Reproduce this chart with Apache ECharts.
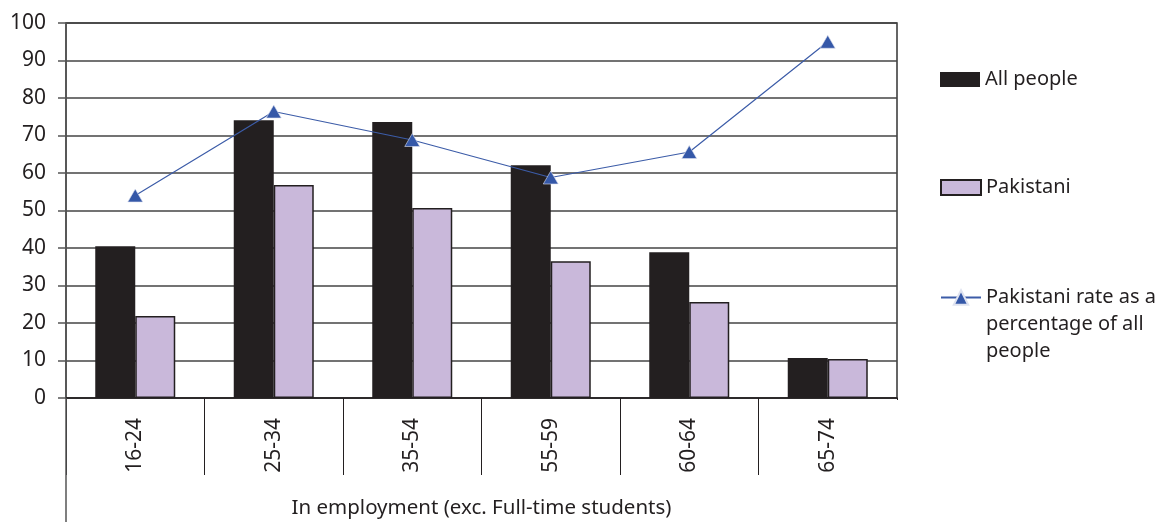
<!DOCTYPE html>
<html>
<head>
<meta charset="utf-8">
<script src="https://cdn.jsdelivr.net/npm/echarts@6/dist/echarts.min.js"></script>
<style>html,body{margin:0;padding:0;background:#fff}#c{width:1161px;height:522px}</style>
</head>
<body>
<div id="c"></div>
<script>
const categories = ['16-24', '25-34', '35-54', '55-59', '60-64', '65-74'];
const allPeople = [40.5, 74.1, 73.6, 62.1, 38.9, 10.7];
const pakistani = [21.9, 56.8, 50.7, 36.5, 25.6, 10.4];
const pakRate = [54.0, 76.4, 68.8, 58.8, 65.6, 95.0];
const yTicks = [0, 10, 20, 30, 40, 50, 60, 70, 80, 90, 100];
const xAxisName = 'In employment (exc. Full-time students)';
const seriesNames = ['All people', 'Pakistani', 'Pakistani rate as a percentage of all people'];
const legendLabel3 = ['Pakistani rate as a', 'percentage of all', 'people'];

const FONT = 'Noto Sans';
const TXT = '#231f20';
const chart = echarts.init(document.getElementById('c'), null, {renderer: 'canvas'});

function legendFor(name, top, formatter) {
  return {
    data: [{name: name, icon: 'rect'}], orient: 'vertical', left: 940, top: top,
    itemWidth: 40, itemHeight: 15, padding: 0,
    textStyle: {fontFamily: FONT, fontSize: 20, color: TXT, lineHeight: 27},
    formatter: formatter || '{name}'
  };
}

chart.setOption({
  animation: false,
  textStyle: {fontFamily: FONT},
  grid: {left: 66, right: 264, top: 23, bottom: 124, show: true, borderColor: '#333', borderWidth: 1.5,
         outerBoundsMode: 'none', containLabel: false},
  legend: [
    legendFor(seriesNames[0], 66),
    legendFor(seriesNames[1], 174),
    {
      data: [seriesNames[2]], orient: 'vertical', left: 940, top: 284 - 54,
      itemWidth: 40, itemHeight: 18, padding: 0,
      textStyle: {fontFamily: FONT, fontSize: 20, color: TXT, lineHeight: 27},
      formatter: function () { return '\n\n' + legendLabel3.join('\n'); }
    }
  ],
  xAxis: {
    type: 'category', data: categories,
    name: xAxisName, nameLocation: 'middle', nameGap: 100, nameMoveOverlap: false,
    nameTextStyle: {fontFamily: FONT, fontSize: 20.5, color: TXT},
    axisLine: {lineStyle: {color: '#231f20', width: 1.5}},
    axisTick: {show: true, length: 77, lineStyle: {color: '#231f20', width: 1}},
    axisLabel: {rotate: 90, margin: 20, fontSize: 21, color: TXT, fontFamily: FONT}
  },
  yAxis: {
    type: 'value', min: yTicks[0], max: yTicks[yTicks.length - 1], interval: 10,
    axisLine: {show: true, lineStyle: {color: '#555', width: 1.5}},
    axisTick: {show: true, length: 8, lineStyle: {color: '#555', width: 1.5}},
    axisLabel: {margin: 20, fontSize: 21, color: TXT, fontFamily: FONT},
    splitLine: {lineStyle: {color: '#444', width: 1.5}}
  },
  graphic: [{
    type: 'line', z: 10,
    shape: {x1: 66, y1: 398, x2: 66, y2: 522},
    style: {stroke: '#555', lineWidth: 1.5}
  }, {
    type: 'rect', z: 10,
    shape: {x: 895.5, y: 400, width: 4, height: 80},
    style: {fill: '#fff'}
  }],
  series: [
    {
      name: seriesNames[0], type: 'bar', data: allPeople,
      barWidth: 40, barGap: '0%',
      itemStyle: {color: '#231f20'}
    },
    {
      name: seriesNames[1], type: 'bar', data: pakistani,
      barWidth: 40, barGap: '0%',
      itemStyle: {color: '#c9b8da', borderColor: '#231f20', borderWidth: 1.5}
    },
    {
      name: seriesNames[2], type: 'line', data: pakRate,
      symbol: 'triangle', symbolSize: [15, 13],
      lineStyle: {color: '#3c5ca8', width: 1.2},
      itemStyle: {color: '#3558a8', borderColor: '#dfe3f0', borderWidth: 0.6},
      z: 5
    }
  ]
});
</script>
</body>
</html>
